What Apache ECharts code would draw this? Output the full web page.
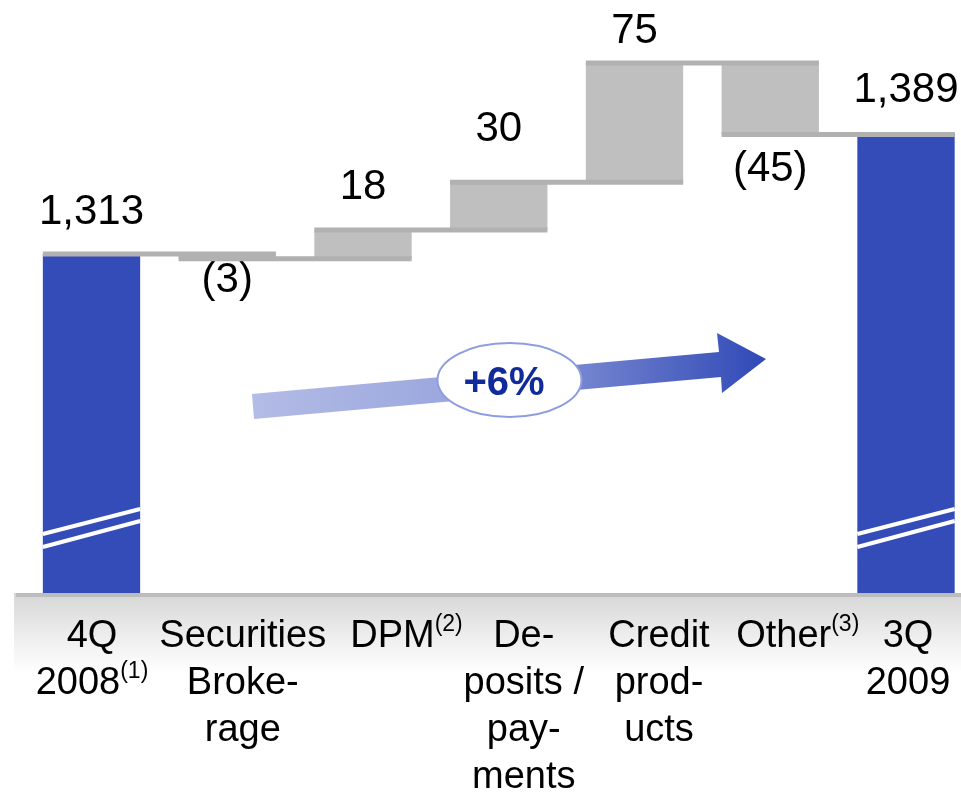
<!DOCTYPE html>
<html>
<head>
<meta charset="utf-8">
<script src="https://cdn.jsdelivr.net/npm/echarts@6/dist/echarts.min.js"></script>
<style>
  html, body { margin: 0; padding: 0; background: #fff; }
  #chart { width: 961px; height: 792px; }
</style>
</head>
<body>
<div id="chart"></div>
<script>
// Revenue bridge from 4Q 2008 to 3Q 2009, by business line

// ---- data ----
const categoryLines = [
  ['4Q', '2008'],
  ['Securities', 'Broke-', 'rage'],
  ['DPM'],
  ['De-', 'posits /', 'pay-', 'ments'],
  ['Credit', 'prod-', 'ucts'],
  ['Other'],
  ['3Q', '2009']
];
const footnotes = ['1', '', '2', '', '', '3', ''];
const values = [1313, -3, 18, 30, 75, -45, 1389];
const totalFlags = [true, false, false, false, false, false, true];
const growthLabel = '+6%';

// ---- layout & style ----
const Y_MIN = 1100;
const Y_MAX = 1470;
const BAR_RATIO = 0.717;
const FONT = "'Liberation Sans', Arial, Helvetica, sans-serif";
const BLUE = '#344cb8';
const GREY_FILL = '#bfbfbf';
const GREY_EDGE = '#b1b1b1';
const EDGE_WIDTH = 5;
const VALUE_FONT = 42;
const CAT_FONT = 38;
const CAT_LINE = 47;
const MID_SHIFT = 0.34 * VALUE_FONT;              // baseline → canvas "middle"
const labelGap = [27, 36, 28, 39, 17, 49, 28];    // baseline distance from bar end
const categoryShift = [0.5, 15.5, 43.5, 25, 24.5, 27.5, 2];
const breakMarks = [[46, 72], [59, 84]];           // axis-break strokes, px above base

// ---- derived series ----
const fmt = v => v < 0 ? '(' + Math.abs(v) + ')' : v.toLocaleString('en-US');

let running = 0;
const segments = values.map((v, i) => {
  if (totalFlags[i]) { running = v; return [i, Y_MIN, v, v]; }
  const start = running;
  running += v;
  return [i, Math.min(start, running), Math.max(start, running), v];
});

// level reached after each bar, joined to the following bar
const connectors = [];
running = 0;
values.forEach((v, i) => {
  running = totalFlags[i] ? v : running + v;
  if (i < values.length - 1) connectors.push([i, running]);
});

function barGeom(api, i, y) {
  const band = api.size([1, 0])[0];
  const w = band * BAR_RATIO;
  const p = api.coord([i, y]);
  return { cx: p[0], y: p[1], w: w, x0: p[0] - w / 2 };
}

function renderBar(params, api) {
  const i = api.value(0);
  const lo = api.value(1);
  const hi = api.value(2);
  const v = api.value(3);
  const gLo = barGeom(api, i, lo);
  const gHi = barGeom(api, i, hi);
  const total = totalFlags[i];
  const children = [{
    type: 'rect',
    shape: { x: gLo.x0, y: gHi.y, width: gLo.w, height: gLo.y - gHi.y },
    style: { fill: total ? BLUE : GREY_FILL }
  }];
  if (total) {
    breakMarks.forEach(([a, b]) => {
      children.push({
        type: 'line',
        shape: { x1: gLo.x0, y1: gLo.y - a, x2: gLo.x0 + gLo.w, y2: gLo.y - b },
        style: { stroke: '#ffffff', lineWidth: 4 }
      });
    });
  }
  const below = v < 0;
  const ty = below ? gLo.y + labelGap[i] - MID_SHIFT : gHi.y - labelGap[i] - MID_SHIFT;
  children.push({
    type: 'text',
    z2: 20,
    style: {
      text: fmt(v), x: gLo.cx, y: ty,
      align: 'center', verticalAlign: 'middle',
      fontSize: VALUE_FONT, fontFamily: FONT, fill: '#000000'
    }
  });

  // category label under the base band
  const base = barGeom(api, i, Y_MIN);
  const lines = categoryLines[i].slice();
  if (footnotes[i]) lines[lines.length - 1] += '{sup|(' + footnotes[i] + ')}';
  children.push({
    type: 'text',
    z2: 20,
    style: {
      text: lines.join('\n'),
      x: base.cx + categoryShift[i], y: base.y + 19.7,
      align: 'center', verticalAlign: 'top',
      fontSize: CAT_FONT, lineHeight: CAT_LINE, fontFamily: FONT, fill: '#000000',
      rich: {
        sup: { fontSize: 23, lineHeight: 36, verticalAlign: 'top', fontFamily: FONT, fill: '#000000' }
      }
    }
  });
  return { type: 'group', children: children };
}

function renderConnector(params, api) {
  const i = api.value(0);
  const level = api.value(1);
  const a = barGeom(api, i, level);
  const b = barGeom(api, i + 1, level);
  return {
    type: 'rect',
    shape: { x: a.x0, y: a.y - EDGE_WIDTH / 2, width: b.x0 + b.w - a.x0, height: EDGE_WIDTH },
    style: { fill: GREY_EDGE }
  };
}

const chart = echarts.init(document.getElementById('chart'), null, { renderer: 'canvas' });

chart.setOption({
  animation: false,
  backgroundColor: '#ffffff',
  // category positions run from the first bar centre to the last one
  grid: { left: 91.5, top: 4, width: 814.5, height: 589 },
  xAxis: {
    type: 'category',
    boundaryGap: false,
    data: categoryLines.map(l => l.join(' ')),
    axisLine: { show: false }, axisTick: { show: false },
    axisLabel: { show: false }, splitLine: { show: false }
  },
  yAxis: {
    type: 'value', min: Y_MIN, max: Y_MAX,
    show: false, splitLine: { show: false }
  },
  graphic: [
    // base band under the bars
    {
      type: 'rect', z: -1,
      shape: { x: 14, y: 593, width: 947, height: 80 },
      style: {
        fill: new echarts.graphic.LinearGradient(0, 0, 0, 1, [
          { offset: 0, color: '#d6d6d6' },
          { offset: 0.55, color: '#eeeeee' },
          { offset: 1, color: '#ffffff' }
        ])
      }
    },
    {
      type: 'rect', z: -1,
      shape: { x: 16, y: 593, width: 945, height: 4 },
      style: { fill: '#bdbdbd' }
    },
    // growth arrow
    {
      type: 'polygon', z: 5,
      shape: {
        points: [[252, 394], [254, 419], [721, 377], [722, 393], [766, 359], [717, 333], [719, 352]]
      },
      style: {
        fill: new echarts.graphic.LinearGradient(0, 0, 1, 0, [
          { offset: 0, color: '#b3bce6' },
          { offset: 0.45, color: '#97a3dc' },
          { offset: 1, color: '#3049b6' }
        ])
      }
    },
    {
      type: 'ellipse', z: 6,
      shape: { cx: 509.5, cy: 380, rx: 72, ry: 37 },
      style: { fill: '#ffffff', stroke: '#8e9de0', lineWidth: 2 }
    },
    {
      type: 'text', z: 7,
      style: {
        text: growthLabel, x: 504, y: 384,
        align: 'center', verticalAlign: 'middle',
        fontSize: 40, fontWeight: 'bold', fontFamily: FONT, fill: '#122b9b'
      }
    }
  ],
  series: [
    {
      type: 'custom',
      name: 'bars',
      renderItem: renderBar,
      encode: { x: 0, y: [1, 2] },
      data: segments,
      z: 2
    },
    {
      type: 'custom',
      name: 'connectors',
      renderItem: renderConnector,
      encode: { x: 0, y: 1 },
      data: connectors,
      z: 3
    }
  ]
});
</script>
</body>
</html>
